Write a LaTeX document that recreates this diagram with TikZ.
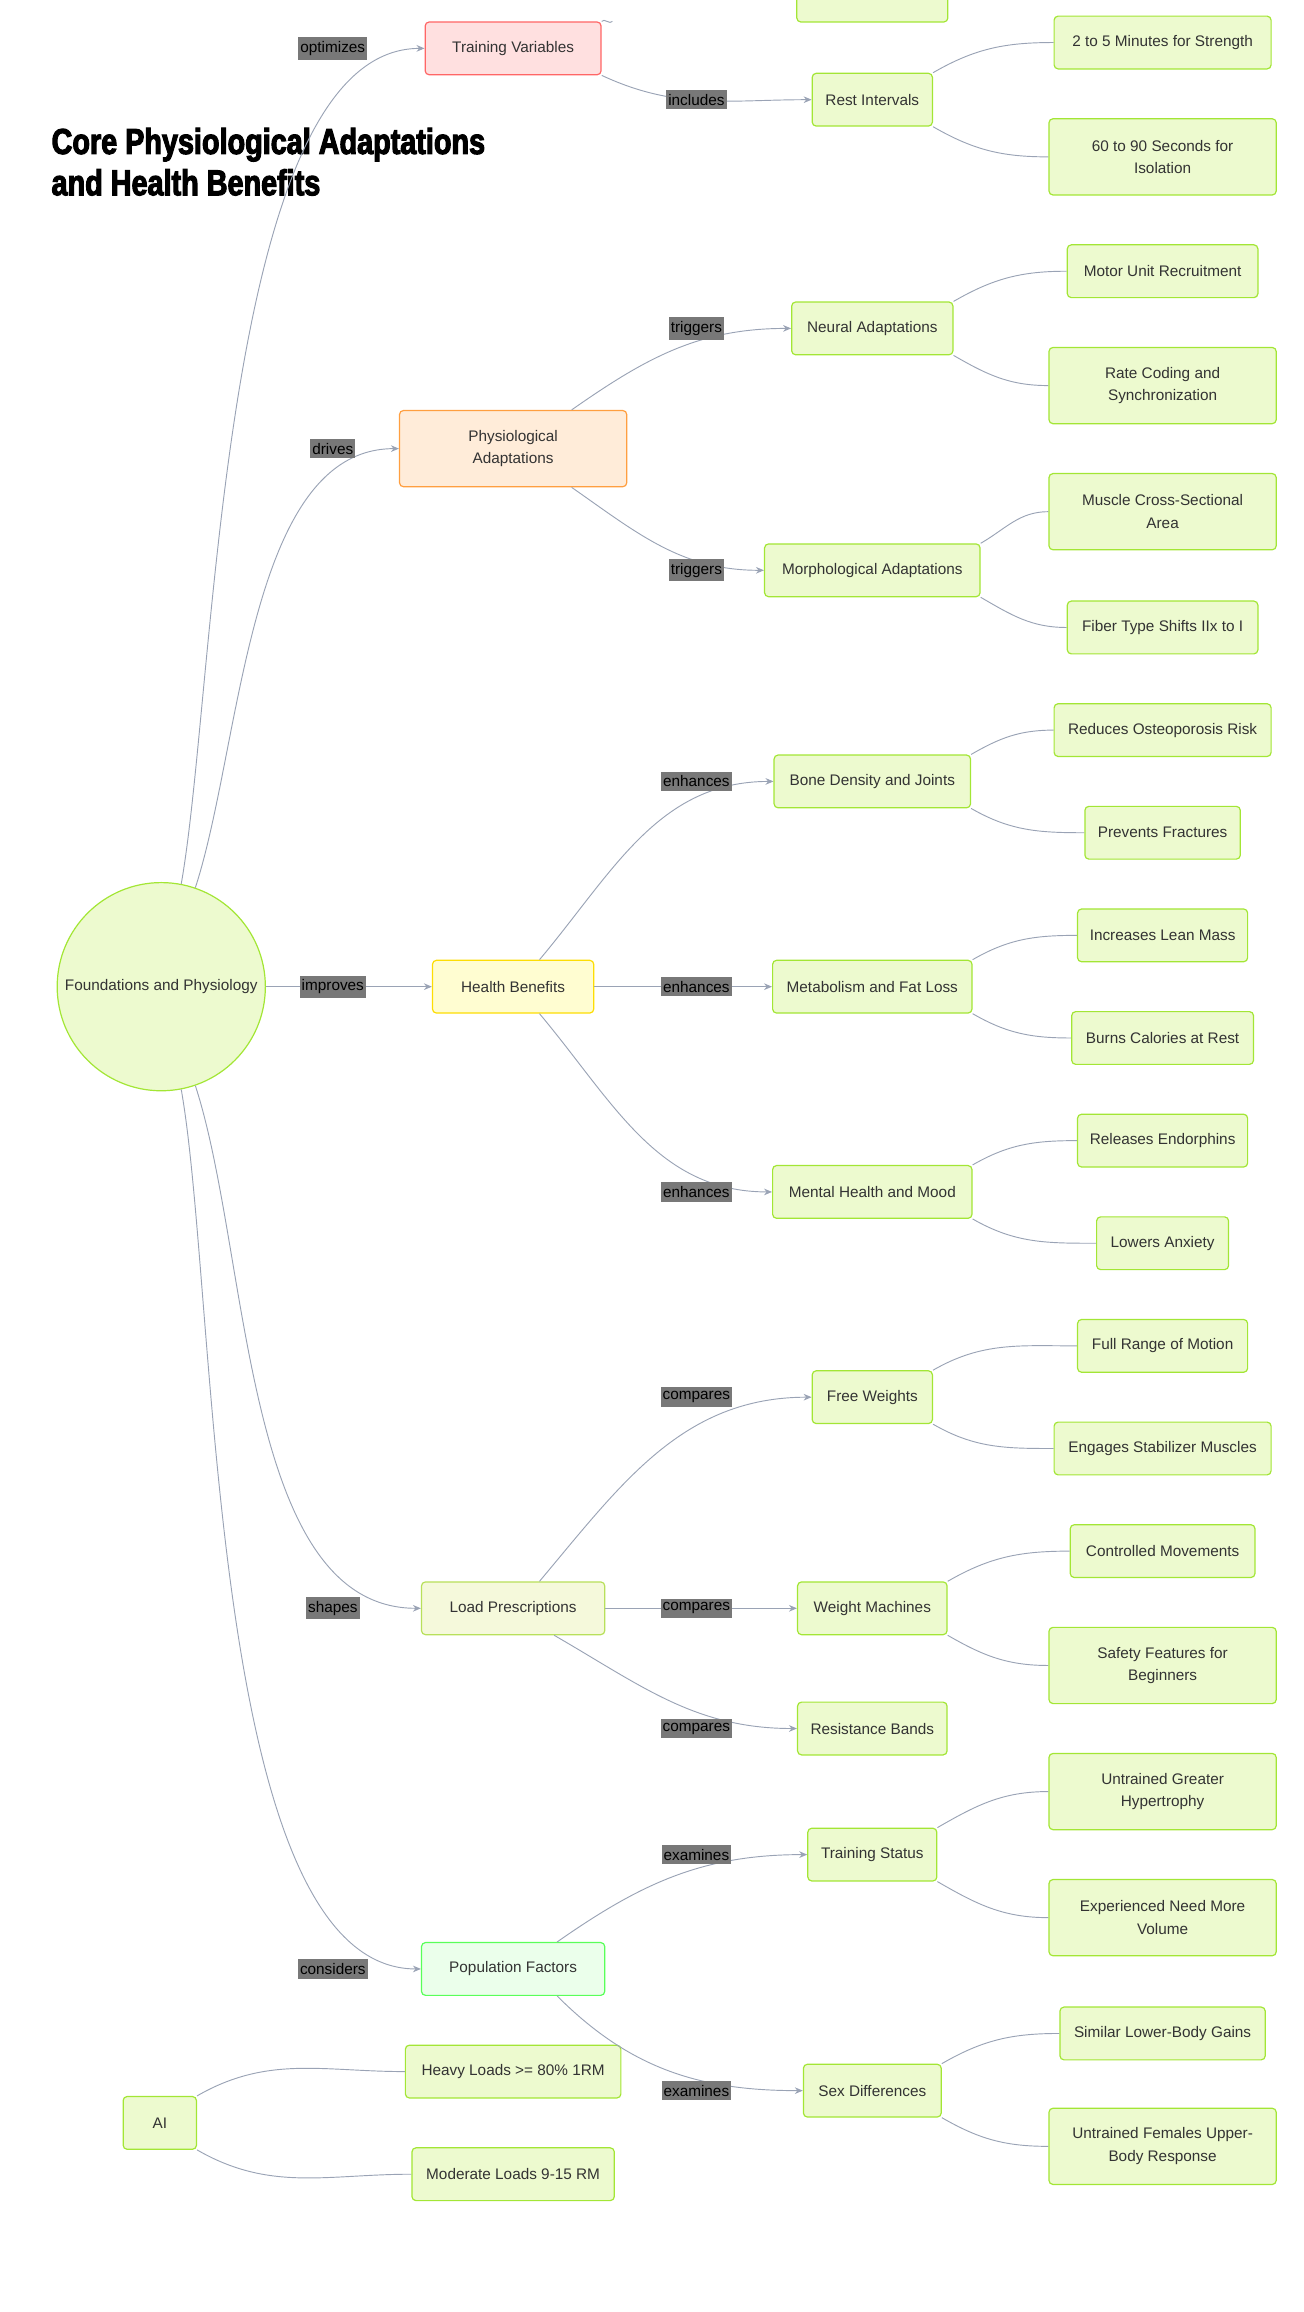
\documentclass[tikz,border=0pt]{standalone}
\usepackage{fontspec}
\setmainfont{Liberation Sans}
\newfontfamily\titlefont[FakeStretch=0.8,FakeBold=3]{Liberation Sans Bold}
\usetikzlibrary{arrows.meta}
\definecolor{edgec}{HTML}{9AA3B5}
\definecolor{txt}{HTML}{333333}
\definecolor{leaff}{HTML}{EDFACF}
\definecolor{leafd}{HTML}{A3E635}
\def\u{1.1pt}
\tikzset{
  box/.style={rectangle, rounded corners=3pt, draw=leafd, fill=leaff, line width=0.9pt, text=txt, align=center, minimum height=36*\u, inner xsep=6pt, font=\fontsize{11.5}{17}\selectfont},
  leaf/.style={box},
  tall/.style={box, minimum height=52*\u},
  edge/.style={draw=edgec, line width=0.7pt, -{Stealth[length=6pt,width=5pt]}},
  branch/.style={draw=edgec, line width=0.7pt},
  lbl/.style={fill=black!53, text=black, inner xsep=1.5pt, inner ysep=3pt, font=\fontsize{11.5}{12}\selectfont}
}
\begin{document}
\begin{tikzpicture}[x=1.1pt,y=-1.1pt]
    \useasboundingbox (0,0) rectangle (889,1577);
    \node[anchor=north west, align=left, font=\titlefont\fontsize{27}{31}\selectfont] (title) at (32,84) {Core Physiological Adaptations\\and Health Benefits};

    % root and first level
    \node[circle, draw=leafd, fill=leaff, line width=0.9pt, minimum size=142*\u, text=txt, font=\fontsize{11.5}{13}\selectfont] (root) at (110,673) {Foundations and Physiology};
    \node[box, draw=red!60, fill=red!12, minimum width=120*\u] (tv) at (350,33) {Training Variables};
    \node[tall, draw=orange!75, fill=orange!15, minimum width=155*\u] (pa) at (350,306) {Physiological\\Adaptations};
    \node[box, draw=yellow!80!orange, fill=yellow!18, minimum width=110*\u] (hb) at (350,673) {Health Benefits};
    \node[box, draw=yellow!60!green!70, fill=yellow!6!leaff!60!white, minimum width=125*\u] (lp) at (350,1097) {Load Prescriptions};
    \node[box, draw=green!65, fill=green!8, minimum width=125*\u] (pf) at (350,1343) {Population Factors};

    % second level
    \node[box, minimum width=103*\u] (tvx) at (595,-3) {};
    \node[box, minimum width=82*\u] (ri) at (595,68) {Rest Intervals};
    \node[box, minimum width=110*\u] (na) at (595,224) {Neural Adaptations};
    \node[box, minimum width=147*\u] (ma) at (595,389) {Morphological Adaptations};
    \node[box, minimum width=134*\u] (bd) at (595,533) {Bone Density and Joints};
    \node[box, minimum width=136*\u] (mf) at (595,673) {Metabolism and Fat Loss};
    \node[box, minimum width=136*\u] (mh) at (595,813) {Mental Health and Mood};
    \node[box, minimum width=82*\u] (fw) at (595,953) {Free Weights};
    \node[box, minimum width=102*\u] (wm) at (595,1097) {Weight Machines};
    \node[box, minimum width=102*\u] (rb) at (595,1179) {Resistance Bands};
    \node[box, minimum width=88*\u] (ts) at (595,1265) {Training Status};
    \node[box, minimum width=94*\u] (sd) at (595,1426) {Sex Differences};

    % leaves
    \node[leaf, minimum width=148*\u] (ri1) at (793,29) {2 to 5 Minutes for Strength};
    \node[tall, minimum width=155*\u] (ri2) at (793,107) {60 to 90 Seconds for\\Isolation};
    \node[leaf, minimum width=130*\u] (na1) at (793,185) {Motor Unit Recruitment};
    \node[tall, minimum width=155*\u] (na2) at (793,263) {Rate Coding and\\Synchronization};
    \node[tall, minimum width=155*\u] (ma1) at (793,349) {Muscle Cross-Sectional\\Area};
    \node[leaf, minimum width=130*\u] (ma2) at (793,428) {Fiber Type Shifts IIx to I};
    \node[leaf, minimum width=148*\u] (bd1) at (793,498) {Reduces Osteoporosis Risk};
    \node[leaf, minimum width=106*\u] (bd2) at (793,568) {Prevents Fractures};
    \node[leaf, minimum width=116*\u] (mf1) at (793,638) {Increases Lean Mass};
    \node[leaf, minimum width=124*\u] (mf2) at (793,708) {Burns Calories at Rest};
    \node[leaf, minimum width=116*\u] (mh1) at (793,778) {Releases Endorphins};
    \node[leaf, minimum width=90*\u] (mh2) at (793,848) {Lowers Anxiety};
    \node[leaf, minimum width=116*\u] (fw1) at (793,918) {Full Range of Motion};
    \node[leaf, minimum width=148*\u] (fw2) at (793,988) {Engages Stabilizer Muscles};
    \node[leaf, minimum width=126*\u] (wm1) at (793,1058) {Controlled Movements};
    \node[tall, minimum width=155*\u] (wm2) at (793,1136) {Safety Features for\\Beginners};
    \node[tall, minimum width=155*\u] (ts1) at (793,1222) {Untrained Greater\\Hypertrophy};
    \node[tall, minimum width=155*\u] (ts2) at (793,1308) {Experienced Need More\\Volume};
    \node[leaf, minimum width=140*\u] (sd1) at (793,1387) {Similar Lower-Body Gains};
    \node[tall, minimum width=155*\u] (sd2) at (793,1464) {Untrained Females Upper-\\Body Response};

    % separate AI group
    \node[box, minimum width=50*\u] (ai) at (109,1448) {AI};
    \node[leaf, minimum width=147*\u] (ai1) at (350,1413) {Heavy Loads >= 80\% 1RM};
    \node[leaf, minimum width=138*\u] (ai2) at (350,1483) {Moderate Loads 9-15 RM};

    % root connectors
    \draw[edge] (root.79) to[out=80,in=180,looseness=0.6] (tv.west);
    \draw[edge] (root.71) to[out=72,in=180,looseness=0.8] (pa.west);
    \draw[edge] (root.east) -- (hb.west);
    \draw[edge] (root.-71) to[out=-72,in=180,looseness=0.8] (lp.west);
    \draw[edge] (root.-79) to[out=-80,in=180,looseness=0.6] (pf.west);

    % second level connectors
    \draw[branch] (tv.north east) to[out=60,in=240] ([xshift=8pt]tv.north east);
    \draw[edge] (tv.south east) to[out=-25,in=180] (ri.west);
    \draw[edge] (pa.north east) ++(-38*\u,0) to[out=35,in=180] (na.west);
    \draw[edge] (pa.south east) ++(-38*\u,0) to[out=-35,in=180] (ma.west);
    \draw[edge] (hb.north) ++(18*\u,0) to[out=50,in=180] (bd.west);
    \draw[edge] (hb.east) -- (mf.west);
    \draw[edge] (hb.south) ++(18*\u,0) to[out=-50,in=180] (mh.west);
    \draw[edge] (lp.north) ++(18*\u,0) to[out=50,in=180] (fw.west);
    \draw[edge] (lp.east) -- (wm.west);
    \draw[edge] (lp.south) ++(28*\u,0) to[out=-30,in=180] (rb.west);
    \draw[edge] (pf.north) ++(30*\u,0) to[out=35,in=180] (ts.west);
    \draw[edge] (pf.south) ++(30*\u,0) to[out=-45,in=180] (sd.west);

    % leaf connectors
    \foreach \p/\a/\b in {ri/ri1/ri2, na/na1/na2, ma/ma1/ma2, bd/bd1/bd2, mf/mf1/mf2, mh/mh1/mh2, fw/fw1/fw2, wm/wm1/wm2, ts/ts1/ts2, sd/sd1/sd2, ai/ai1/ai2} {
      \draw[branch] (\p.north east) to[out=30,in=180] (\a.west);
      \draw[branch] (\p.south east) to[out=-30,in=180] (\b.west);
    }

    % connector labels
    \node[lbl] (l1) at (227,33) {optimizes};
    \node[lbl] (l2) at (227,306) {drives};
    \node[lbl] (l3) at (227,673) {improves};
    \node[lbl] (l4) at (227,1097) {shapes};
    \node[lbl] (l5) at (227,1343) {considers};
    \node[lbl] (l6) at (475,68) {includes};
    \node[lbl] (l7) at (475,224) {triggers};
    \node[lbl] (l8) at (475,389) {triggers};
    \node[lbl] (l9) at (475,533) {enhances};
    \node[lbl] (l10) at (475,673) {enhances};
    \node[lbl] (l11) at (475,813) {enhances};
    \node[lbl] (l12) at (475,953) {compares};
    \node[lbl] (l13) at (475,1097) {compares};
    \node[lbl] (l14) at (475,1179) {compares};
    \node[lbl] (l15) at (475,1265) {examines};
    \node[lbl] (l16) at (475,1426) {examines};
\end{tikzpicture}
\end{document}
